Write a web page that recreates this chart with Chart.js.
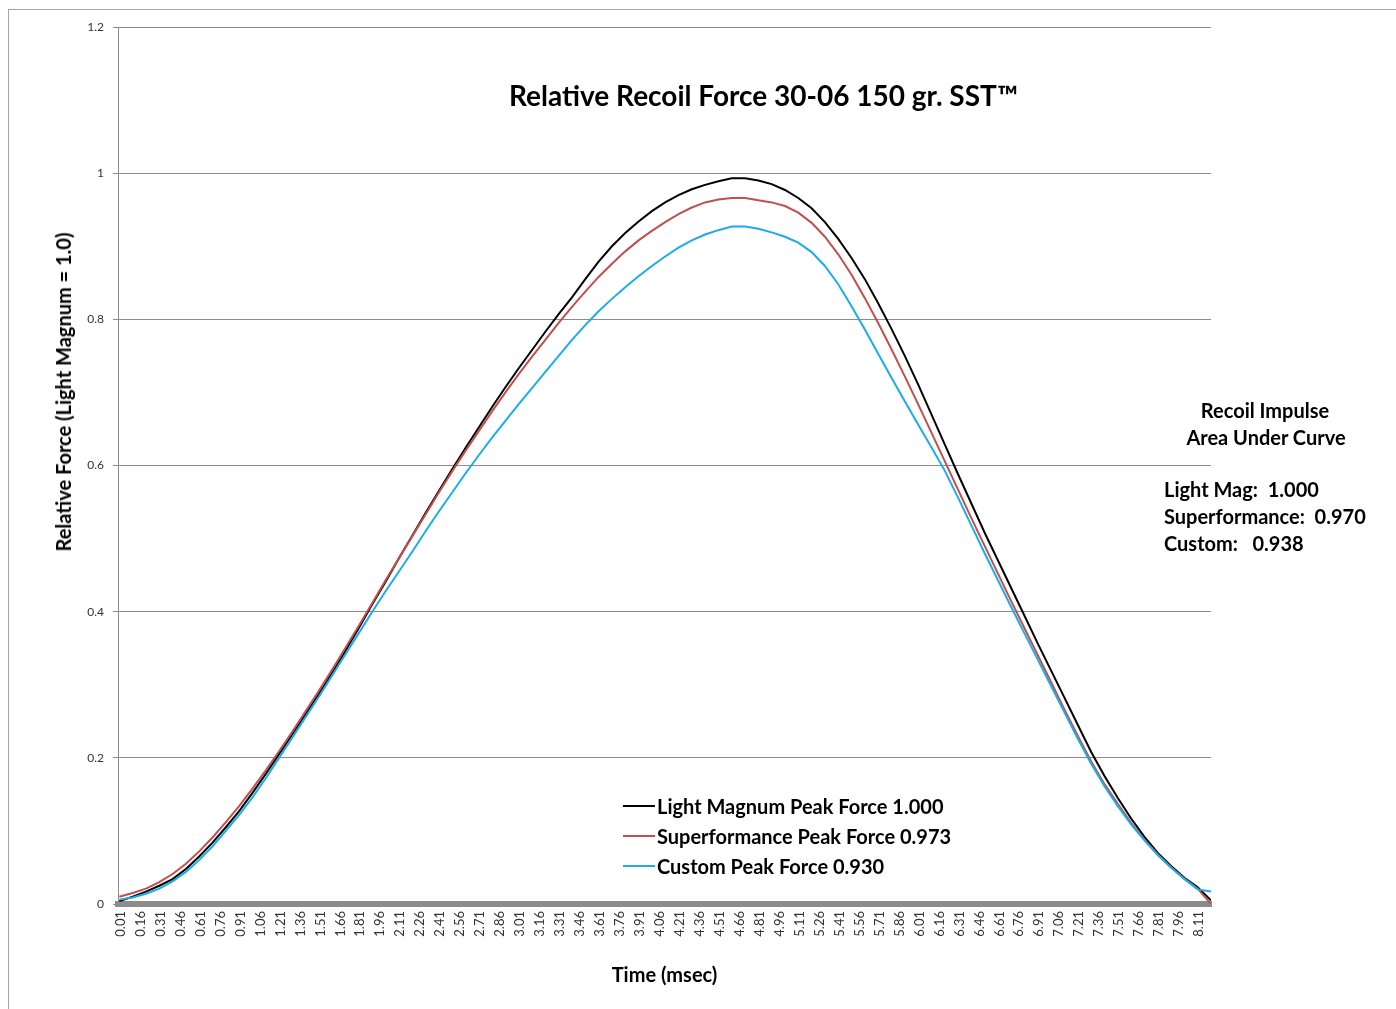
<!DOCTYPE html>
<html>
<head>
<meta charset="utf-8">
<script src="https://cdn.jsdelivr.net/npm/chart.js@4.4.1/dist/chart.umd.min.js"></script>
<style>
  body { margin: 0; background: #fff; }
  #wrap { position: relative; width: 1396px; height: 1009px; overflow: hidden; }
  #frame { position: absolute; left: 8px; top: 9px; width: 1400px; height: 1010px;
           border-left: 1px solid #a6a6a6; border-top: 1px solid #a6a6a6; }
  canvas { position: absolute; left: 0; top: 0; }
  .txt { position: absolute; font-family: Lato, "Open Sans", sans-serif; font-weight: bold;
         color: #000; white-space: nowrap; line-height: 1; }
  .key { position: absolute; height: 2px; width: 32px; }
</style>
</head>
<body>
<div id="wrap">
  <div id="frame"></div>
  <canvas id="chart" width="1396" height="1009"></canvas>

  <div class="txt" style="left:509px; top:81px; font-size:28px;">Relative Recoil Force 30-06 150 gr. SST&trade;</div>

  <div class="txt" style="left:63px; top:392px; font-size:20px; transform: translate(-50%, -50%) rotate(-90deg);">Relative Force (Light Magnum = 1.0)</div>

  <div class="key" style="left:623px; top:805px; background:#000;"></div>
  <div class="txt" style="left:657px; top:796px; font-size:20px;">Light Magnum Peak Force 1.000</div>
  <div class="key" style="left:623px; top:835px; background:#c0504d;"></div>
  <div class="txt" style="left:657px; top:826px; font-size:20px;">Superformance Peak Force 0.973</div>
  <div class="key" style="left:623px; top:865px; background:#1cacea;"></div>
  <div class="txt" style="left:657px; top:856px; font-size:20px;">Custom Peak Force 0.930</div>

  <div class="txt" style="left:1165px; width:200px; text-align:center; top:400px; font-size:20px;">Recoil Impulse</div>
  <div class="txt" style="left:1166px; width:200px; text-align:center; top:427px; font-size:20px;">Area Under Curve</div>
  <div class="txt" style="left:1164px; top:479px; font-size:20px;">Light Mag:&nbsp; 1.000</div>
  <div class="txt" style="left:1164px; top:506px; font-size:20px;">Superformance:&nbsp; 0.970</div>
  <div class="txt" style="left:1164px; top:533px; font-size:20px;">Custom:&nbsp;&nbsp; 0.938</div>
</div>

<script>
// time in msec
const time = [
  0.0, 0.1, 0.2, 0.3, 0.4, 0.5, 0.6, 0.7, 0.8, 0.9,
  1.0, 1.1, 1.2, 1.3, 1.4, 1.5, 1.6, 1.7, 1.8, 1.9,
  2.0, 2.1, 2.2, 2.3, 2.4, 2.5, 2.6, 2.7, 2.8, 2.9,
  3.0, 3.1, 3.2, 3.3, 3.4, 3.5, 3.6, 3.7, 3.8, 3.9,
  4.0, 4.1, 4.2, 4.3, 4.4, 4.5, 4.6, 4.7, 4.8, 4.9,
  5.0, 5.1, 5.2, 5.3, 5.4, 5.5, 5.6, 5.7, 5.8, 5.9,
  6.0, 6.1, 6.2, 6.3, 6.4, 6.5, 6.6, 6.7, 6.8, 6.9,
  7.0, 7.1, 7.2, 7.3, 7.4, 7.5, 7.6, 7.7, 7.8, 7.9,
  8.0, 8.1, 8.2
];

const lightMagnum = [
  0.004, 0.010, 0.017, 0.025, 0.034, 0.048, 0.065, 0.084, 0.105, 0.127,
  0.152, 0.178, 0.205, 0.232, 0.260, 0.288, 0.317, 0.347, 0.378, 0.410,
  0.441, 0.473, 0.504, 0.535, 0.565, 0.595, 0.624, 0.652, 0.680, 0.707,
  0.733, 0.758, 0.783, 0.807, 0.830, 0.855, 0.879, 0.900, 0.918, 0.934,
  0.948, 0.960, 0.970, 0.978, 0.984, 0.989, 0.993, 0.993, 0.990, 0.985,
  0.977, 0.966, 0.952, 0.933, 0.910, 0.884, 0.855, 0.822, 0.787, 0.750,
  0.711, 0.670, 0.629, 0.588, 0.548, 0.508, 0.470, 0.432, 0.394, 0.356,
  0.319, 0.282, 0.245, 0.208, 0.175, 0.145, 0.117, 0.092, 0.070, 0.052,
  0.036, 0.023, 0.005
];

const superformance = [
  0.010, 0.015, 0.021, 0.030, 0.041, 0.055, 0.072, 0.091, 0.112, 0.134,
  0.158, 0.183, 0.209, 0.236, 0.264, 0.292, 0.321, 0.351, 0.381, 0.412,
  0.443, 0.473, 0.503, 0.533, 0.563, 0.592, 0.620, 0.647, 0.674, 0.700,
  0.725, 0.749, 0.772, 0.795, 0.817, 0.838, 0.858, 0.876, 0.893, 0.908,
  0.921, 0.933, 0.944, 0.953, 0.960, 0.964, 0.966, 0.966, 0.963, 0.960,
  0.955, 0.946, 0.932, 0.913, 0.889, 0.861, 0.829, 0.795, 0.759, 0.722,
  0.684, 0.645, 0.606, 0.567, 0.528, 0.490, 0.452, 0.414, 0.377, 0.340,
  0.303, 0.266, 0.230, 0.195, 0.164, 0.137, 0.111, 0.088, 0.068, 0.050,
  0.035, 0.021, 0.000
];

const custom = [
  0.006, 0.009, 0.014, 0.021, 0.031, 0.044, 0.060, 0.079, 0.100, 0.122,
  0.146, 0.172, 0.200, 0.228, 0.256, 0.284, 0.313, 0.342, 0.371, 0.400,
  0.428, 0.455, 0.482, 0.510, 0.537, 0.563, 0.589, 0.614, 0.638, 0.661,
  0.684, 0.706, 0.728, 0.750, 0.772, 0.792, 0.811, 0.828, 0.844, 0.859,
  0.873, 0.886, 0.898, 0.908, 0.916, 0.922, 0.927, 0.927, 0.924, 0.919,
  0.913, 0.905, 0.892, 0.873, 0.848, 0.818, 0.786, 0.753, 0.720, 0.688,
  0.656, 0.625, 0.593, 0.556, 0.518, 0.480, 0.443, 0.406, 0.370, 0.334,
  0.298, 0.262, 0.226, 0.192, 0.161, 0.134, 0.109, 0.087, 0.067, 0.050,
  0.034, 0.020, 0.017
];

const tickLabels = [
  0.01, 0.16, 0.31, 0.46, 0.61, 0.76, 0.91, 1.06, 1.21, 1.36, 1.51,
  1.66, 1.81, 1.96, 2.11, 2.26, 2.41, 2.56, 2.71, 2.86, 3.01, 3.16,
  3.31, 3.46, 3.61, 3.76, 3.91, 4.06, 4.21, 4.36, 4.51, 4.66, 4.81,
  4.96, 5.11, 5.26, 5.41, 5.56, 5.71, 5.86, 6.01, 6.16, 6.31, 6.46,
  6.61, 6.76, 6.91, 7.06, 7.21, 7.36, 7.51, 7.66, 7.81, 7.96, 8.11
];

function points(values) {
  return time.map((t, i) => ({ x: t, y: values[i] }));
}

Chart.defaults.font.family = 'Lato, "Open Sans", sans-serif';

const chart = new Chart(document.getElementById('chart'), {
  type: 'line',
  data: {
    datasets: [
      { label: 'Light Magnum Peak Force 1.000', data: points(lightMagnum),
        borderColor: '#000000', borderWidth: 2, pointRadius: 0, order: 2 },
      { label: 'Superformance Peak Force 0.973', data: points(superformance),
        borderColor: '#c0504d', borderWidth: 2, pointRadius: 0, order: 1 },
      { label: 'Custom Peak Force 0.930', data: points(custom),
        borderColor: '#1cacea', borderWidth: 2, pointRadius: 0, order: 0 }
    ]
  },
  options: {
    responsive: false,
    animation: false,
    layout: { padding: { left: 40, top: 27, right: 185, bottom: 0 } },
    plugins: { legend: { display: false }, tooltip: { enabled: false } },
    scales: {
      x: {
        type: 'linear',
        min: -0.01,
        max: 8.2,
        afterFit: s => { s.height = 105; },
        afterBuildTicks: s => { s.ticks = tickLabels.map(v => ({ value: v })); },
        ticks: {
          autoSkip: false, minRotation: 90, maxRotation: 90, padding: 7,
          color: '#333', font: { size: 13 },
          callback: v => Number(v).toFixed(2)
        },
        grid: { drawOnChartArea: false, drawTicks: false },
        border: { color: '#8c8c8c', width: 6, dash: [6, 2] },
        title: { display: true, text: 'Time (msec)', color: '#000',
                 font: { size: 20, weight: 'bold' }, padding: { top: 0, bottom: 21 } }
      },
      y: {
        min: 0,
        max: 1.2,
        afterFit: s => { s.width = 78; },
        ticks: { stepSize: 0.2, padding: 9, color: '#333', font: { size: 12 },
                 callback: v => String(Number(v.toFixed(1))) },
        grid: { color: '#8c8c8c', tickLength: 5 },
        border: { color: '#8c8c8c' }
      }
    }
  }
});
</script>
</body>
</html>
